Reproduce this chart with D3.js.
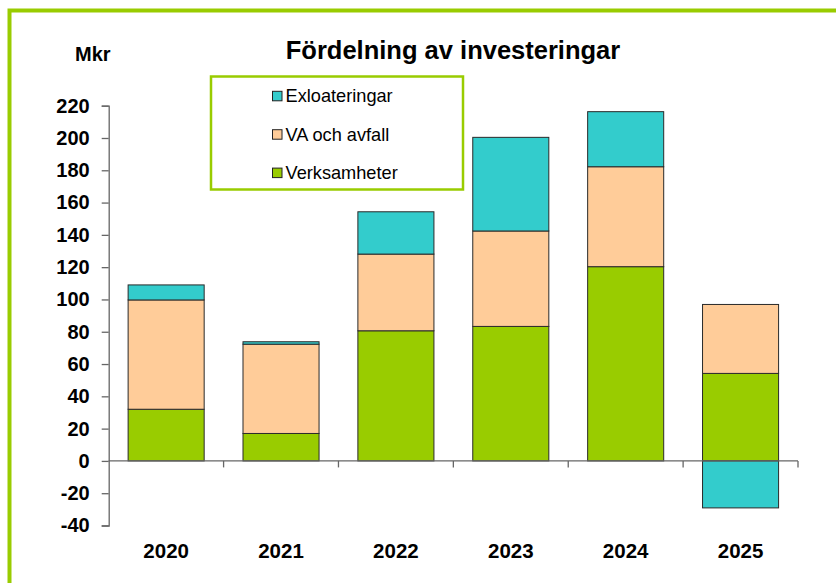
<!DOCTYPE html>
<html>
<head>
<meta charset="utf-8">
<script src="https://cdn.jsdelivr.net/npm/d3@7"></script>
<style>
  body { margin: 0; background: #fff; }
  svg { display: block; font-family: Arial, "Liberation Sans", sans-serif; }
</style>
</head>
<body>
<div id="chart"></div>
<script>
// Fördelning av investeringar – stacked bars, Mkr
const years = ['2020', '2021', '2022', '2023', '2024', '2025'];
const verksamheter = [32, 17, 80.6, 83.3, 120.3, 54.2];
const vaOchAvfall = [67.7, 55.3, 47.5, 59.1, 61.9, 42.7];
const exploateringar = [9.3, 1.5, 26.2, 58, 34.1, -29.1];
const yTicks = [-40, -20, 0, 20, 40, 60, 80, 100, 120, 140, 160, 180, 200, 220];

const series = [
  { key: 'Verksamheter', values: verksamheter, color: '#99cc00' },
  { key: 'VA och avfall', values: vaOchAvfall, color: '#ffcc99' },
  { key: 'Exloateringar', values: exploateringar, color: '#33cccc' }
];

const width = 836, height = 583;
const green = '#99cc00';

const svg = d3.select('#chart').append('svg')
  .attr('width', width).attr('height', height);

// outer frame (runs off the right/bottom edge)
svg.append('rect')
  .attr('x', 9.5).attr('y', 10.5)
  .attr('width', width + 20).attr('height', height + 20)
  .attr('fill', 'none').attr('stroke', green).attr('stroke-width', 4);

const x = d3.scaleBand().domain(years).range([108.7, 798]).padding(0);
const y = d3.scaleLinear().domain([-40, 220]).range([525.5, 105.7]);
const barW = x.bandwidth() * 0.662;

const rows = years.map((yr, i) => {
  const r = { year: yr };
  series.forEach(s => { r[s.key] = s.values[i]; });
  return r;
});

const stacked = d3.stack()
  .keys(series.map(s => s.key))
  .offset(d3.stackOffsetDiverging)(rows);

const g = svg.append('g');
stacked.forEach((layer, li) => {
  g.append('g').selectAll('rect')
    .data(layer)
    .join('rect')
    .attr('x', d => x(d.data.year) + (x.bandwidth() - barW) / 2)
    .attr('y', d => y(Math.max(d[0], d[1])))
    .attr('width', barW)
    .attr('height', d => Math.abs(y(d[0]) - y(d[1])))
    .attr('fill', series[li].color)
    .attr('stroke', '#2a2a2a')
    .attr('stroke-width', 1);
});

// y axis (plain hyphen for negatives, like the original)
const yAxis = svg.append('g')
  .attr('transform', 'translate(108.7,0)')
  .call(d3.axisLeft(y).tickValues(yTicks).tickSize(7).tickPadding(12).tickFormat(d => String(d)));
yAxis.select('.domain').attr('stroke', '#666').attr('stroke-width', 1.3);
yAxis.selectAll('.tick line').attr('stroke', '#666').attr('stroke-width', 1.3);
yAxis.selectAll('.tick text')
  .attr('fill', '#000').style('font-size', '20px').style('font-weight', 'bold');

// x axis at zero, ticks between categories
const bounds = years.map(yr => x(yr)).concat([x.range()[1]]);
const xAxis = svg.append('g');
xAxis.append('line')
  .attr('x1', x.range()[0]).attr('x2', x.range()[1])
  .attr('y1', y(0)).attr('y2', y(0))
  .attr('stroke', '#666').attr('stroke-width', 1.3);
xAxis.selectAll('line.tk')
  .data(bounds.slice(1))
  .join('line').attr('class', 'tk')
  .attr('x1', d => d).attr('x2', d => d)
  .attr('y1', y(0)).attr('y2', y(0) + 6.5)
  .attr('stroke', '#666').attr('stroke-width', 1.3);

svg.append('g').selectAll('text')
  .data(years)
  .join('text')
  .attr('x', d => x(d) + x.bandwidth() / 2)
  .attr('y', 557.5)
  .attr('text-anchor', 'middle')
  .style('font-size', '20.5px').style('font-weight', 'bold')
  .text(d => d);

// title and unit
svg.append('text')
  .attr('x', 453).attr('y', 58.5)
  .attr('text-anchor', 'middle')
  .style('font-size', '25.5px').style('font-weight', 'bold')
  .text('Fördelning av investeringar');

svg.append('text')
  .attr('x', 75).attr('y', 60.5)
  .style('font-size', '20px').style('font-weight', 'bold')
  .text('Mkr');

// legend
svg.append('rect')
  .attr('x', 211).attr('y', 76.5)
  .attr('width', 252).attr('height', 113)
  .attr('fill', '#fff').attr('stroke', green).attr('stroke-width', 2.5);

const legendItems = series.slice().reverse();
const lg = svg.append('g').selectAll('g')
  .data(legendItems)
  .join('g')
  .attr('transform', (d, i) => `translate(272,${102.3 + i * 38.4})`);
lg.append('rect')
  .attr('x', 0.5).attr('y', -11)
  .attr('width', 9.5).attr('height', 9.5)
  .attr('fill', d => d.color).attr('stroke', '#222').attr('stroke-width', 1);
lg.append('text')
  .attr('x', 13.5).attr('y', 0)
  .style('font-size', '18.2px')
  .text(d => d.key);
</script>
</body>
</html>
